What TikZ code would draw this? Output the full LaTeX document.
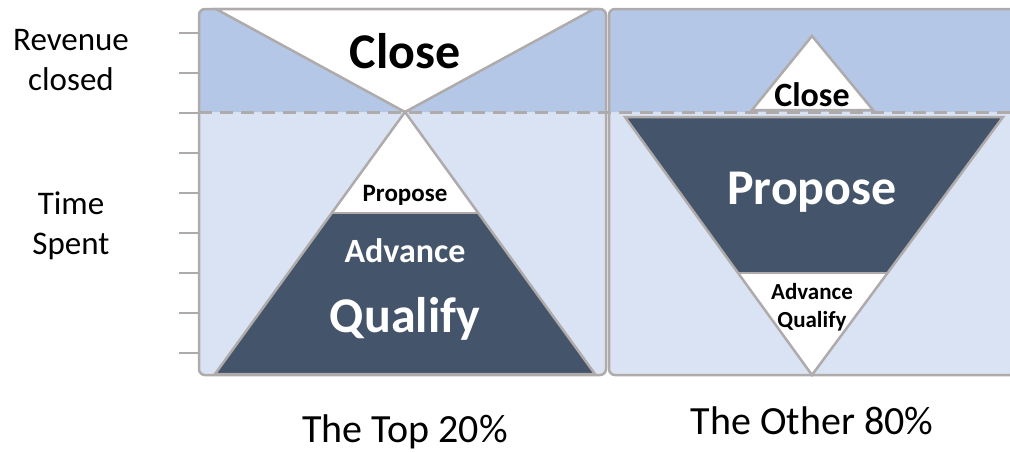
\documentclass[tikz,border=0pt]{standalone}
\usepackage{fontspec}
\setmainfont{Carlito}
\usepackage{tikz}

\definecolor{bandtop}{HTML}{B4C7E7}
\definecolor{bandlow}{HTML}{DAE3F3}
\definecolor{slate}{HTML}{44546A}
\definecolor{edgegray}{HTML}{AFABAB}

\newcommand{\salespanel}[2] % {x left}{x right}
{
	\fill [bandlow, rounded corners=6pt] (#1,9) rectangle (#2,375);
	\fill [bandtop] (#1,112) [rounded corners=6pt] -- (#1,9) -- (#2,9) [sharp corners] -- (#2,112) -- cycle;
	\draw [edgegray, rounded corners=6pt] (#1,9) rectangle (#2,375);
}

\begin{document}
\begin{tikzpicture}[x=1pt, y=-1pt, line width=2.5pt,
		axislabel/.style={anchor=base, font=\fontsize{33}{40}\selectfont},
		caption/.style={anchor=base, font=\fontsize{40}{48}\selectfont},
		stagebig/.style={anchor=base, font=\fontsize{50}{60}\selectfont\bfseries},
		stagemid/.style={anchor=base, font=\fontsize{34}{40}\selectfont\bfseries},
		stagesmall/.style={anchor=base, font=\fontsize{25}{30}\selectfont\bfseries},
		stagetiny/.style={anchor=base, font=\fontsize{23}{28}\selectfont\bfseries}]
	
	\clip (0,0) rectangle (1010,451);
	
	\salespanel{199}{606}
	\salespanel{609}{1016}
	
	% tick marks on the axis
	\foreach \y in {33,73,...,353} {
		\draw [edgegray, line width=2pt] (179,\y) -- (198,\y);
	}
	
	\draw [edgegray, line width=3pt, dash pattern=on 13pt off 8pt] (199,112) -- (1010,112);
	
	% top 20%
	\draw [edgegray, fill=white] (216,9) -- (594,9) -- (405,112) -- cycle;
	\fill [slate] (405,112) -- (595,374) -- (215,374) -- cycle;
	\fill [white] (405,112) -- (478,213) -- (332,213) -- cycle;
	\draw [edgegray, line width=1.2pt] (332,213) -- (478,213);
	\draw [edgegray] (405,112) -- (595,374) -- (215,374) -- cycle;
	
	% other 80%
	\draw [edgegray, fill=white] (812,36) -- (873,110) -- (752,110) -- cycle;
	\fill [slate] (625,117) -- (1003,117) -- (812,375) -- cycle;
	\fill [white] (737,273) -- (887,273) -- (812,375) -- cycle;
	\draw [edgegray, line width=1.2pt] (737,273) -- (887,273);
	\draw [edgegray] (625,117) -- (1003,117) -- (812,375) -- cycle;
	
	\node [axislabel] (revenue) at (71,50) {Revenue};
	\node [axislabel] (closed) at (71,90) {closed};
	\node [axislabel] (time) at (71,214) {Time};
	\node [axislabel] (spent) at (71,254) {Spent};
	
	\node [stagebig] (closeTop) at (405,68) {Close};
	\node [stagesmall] (proposeTop) at (405,201) {Propose};
	\node [stagemid, white] (advanceTop) at (405,262) {Advance};
	\node [stagebig, white] (qualifyTop) at (405,332) {Qualify};
	
	\node [stagemid] (closeOther) at (812,106) {Close};
	\node [stagebig, white] (proposeOther) at (812,204) {Propose};
	\node [stagetiny] (advanceOther) at (812,299) {Advance};
	\node [stagetiny] (qualifyOther) at (812,327) {Qualify};
	
	\node [caption] (top) at (405,442) {The Top 20\%};
	\node [caption] (other) at (812,434) {The Other 80\%};
\end{tikzpicture}
\end{document}
